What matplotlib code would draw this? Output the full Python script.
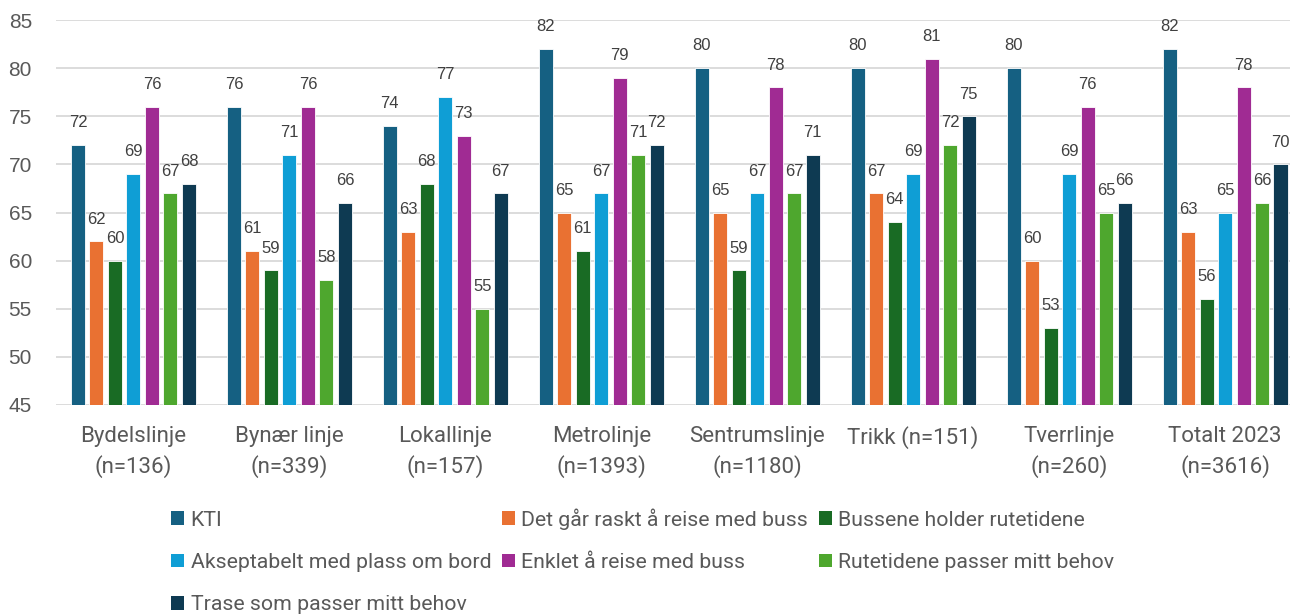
import matplotlib
matplotlib.use("Agg")
import matplotlib.pyplot as plt
import numpy as np
from matplotlib.patches import Patch

categories = ["Bydelslinje\n(n=136)", "Bynær linje\n(n=339)", "Lokallinje\n(n=157)",
              "Metrolinje\n(n=1393)", "Sentrumslinje\n(n=1180)", "Trikk (n=151)",
              "Tverrlinje\n(n=260)", "Totalt 2023\n(n=3616)"]

series_names = ["KTI", "Det går raskt å reise med buss", "Bussene holder rutetidene",
                "Akseptabelt med plass om bord", "Enklet å reise med buss",
                "Rutetidene passer mitt behov", "Trase som passer mitt behov"]

kti        = [72, 76, 74, 82, 80, 80, 80, 82]
raskt      = [62, 61, 63, 65, 65, 67, 60, 63]
rutetider  = [60, 59, 68, 61, 59, 64, 53, 56]
plass      = [69, 71, 77, 67, 67, 69, 69, 65]
enklet     = [76, 76, 73, 79, 78, 81, 76, 78]
behov      = [67, 58, 55, 71, 67, 72, 65, 66]
trase      = [68, 66, 67, 72, 71, 75, 66, 70]

series = [kti, raskt, rutetider, plass, enklet, behov, trase]
colors = ["#156082", "#E97132", "#196B24", "#0F9ED5", "#A02B93", "#4EA72E", "#0E3A52"]

text_grey = "#595959"
num_font = "Liberation Sans"
label_font = "Roboto"

fig = plt.figure(figsize=(12.9, 6.16), dpi=100)
W, H = 1290, 616
ax_left, ax_right = 55.5, 1303
ax_bottom, ax_top = 405, 20
ax = fig.add_axes([ax_left / W, 1 - ax_bottom / H, (ax_right - ax_left) / W, (ax_bottom - ax_top) / H])

x = np.arange(len(categories))
step = 0.1186
width = 0.09
ymin = 45
for i, (vals, col) in enumerate(zip(series, colors)):
    pos = x + (i - 3) * step
    heights = np.array(vals) - ymin
    ax.bar(pos, heights, width=width, bottom=ymin, color=col,
           edgecolor="white", linewidth=0.6, zorder=3)
    for p, v in zip(pos, vals):
        ax.annotate(f"{v}", (p, v), xytext=(0, 16), textcoords="offset points",
                    ha="center", va="center", fontsize=12, color="#404040",
                    family=num_font)

ax.set_xlim(-0.5, len(categories) - 0.5)
ax.set_ylim(45, 85)
ax.set_yticks(np.arange(45, 86, 5))
ax.yaxis.grid(True, color="#d9d9d9", linewidth=1.3, zorder=0)
ax.set_axisbelow(True)
for s in ax.spines.values():
    s.set_visible(False)
ax.tick_params(axis="y", length=0, pad=17, labelsize=15, labelcolor=text_grey)
for t in ax.get_yticklabels():
    t.set_family(num_font)

ax.set_xticks(x)
ax.set_xticklabels(categories, fontsize=16, color=text_grey, family=label_font,
                   linespacing=1.45)
ax.tick_params(axis="x", length=0, pad=15)

handles = [Patch(facecolor=c, edgecolor="none") for c in colors]
order = [0, 3, 6, 1, 4, 2, 5]
leg = fig.legend([handles[k] for k in order], [series_names[k] for k in order],
                 ncol=3, loc="upper left", bbox_to_anchor=(152 / W, 1 - 489 / H),
                 frameon=False, handlelength=0.62, handleheight=0.62, handletextpad=0.3,
                 columnspacing=0.5, labelspacing=1.1,
                 prop={"family": label_font, "size": 15.3})
for t in leg.get_texts():
    t.set_color(text_grey)

fig.savefig("out.png", dpi=100)
